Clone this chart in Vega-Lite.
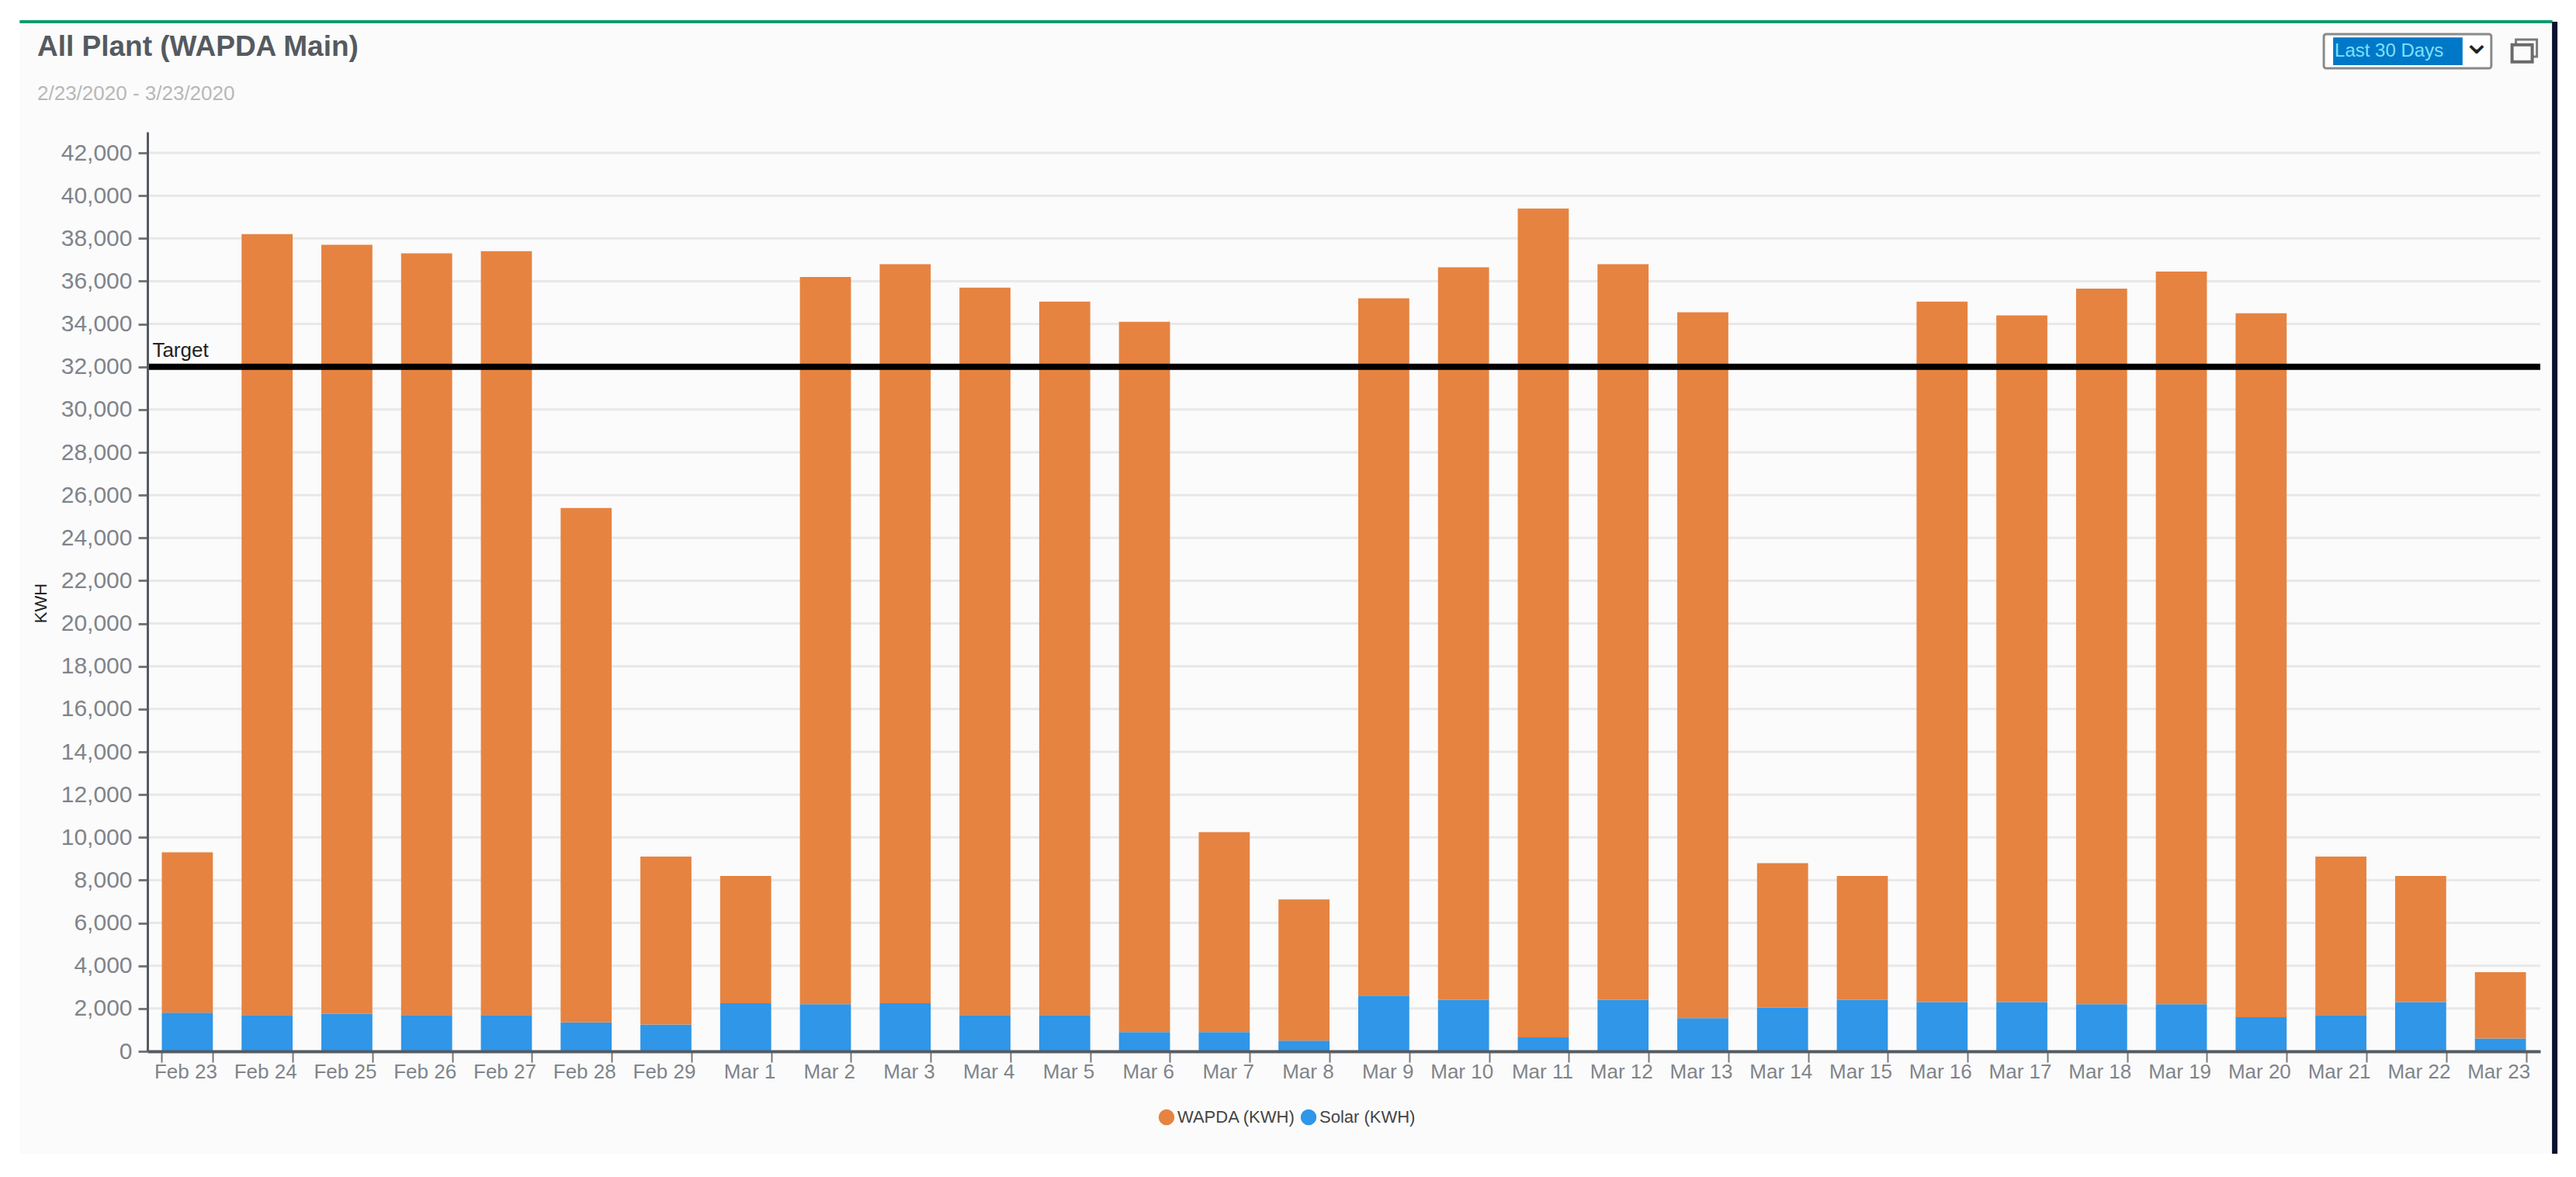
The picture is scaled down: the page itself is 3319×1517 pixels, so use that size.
{
"$schema":"https://vega.github.io/schema/vega-lite/v6.json",
"width":3083,"height":1185,
"autosize":{"type":"none"},
"padding":{"left":190,"top":170,"right":46,"bottom":162},
"background":"#ffffff",
"title":{"text":"All Plant (WAPDA Main)","subtitle":"2/23/2020 - 3/23/2020","anchor":"start","frame":"group","dx":-142,"offset":-111,"font":"Liberation Sans","fontSize":37,"fontWeight":"bold","color":"#555a60","subtitleFont":"Liberation Sans","subtitleFontSize":26,"subtitleColor":"#b8b8b8","subtitlePadding":28},
"config":{"view":{"stroke":null},"font":"Liberation Sans"},
"layer":[
{"data":{"values":[{"a":"panel"}]},"mark":{"type":"rect","fill":"#fbfbfb","xOffset":-216,"x2Offset":67},
 "encoding":{"x":{"datum":"Feb 23"},"x2":{"datum":"Mar 23"},"y":{"datum":48132},"y2":{"datum":-4790}}},
{"data":{"values":[{"v":2000},{"v":4000},{"v":6000},{"v":8000},{"v":10000},{"v":12000},{"v":14000},{"v":16000},{"v":18000},{"v":20000},{"v":22000},{"v":24000},{"v":26000},{"v":28000},{"v":30000},{"v":32000},{"v":34000},{"v":36000},{"v":38000},{"v":40000},{"v":42000}]},
 "mark":{"type":"rule","stroke":"#e8e8e8","strokeWidth":3},
 "encoding":{"y":{"field":"v","type":"quantitative"}}},
{"data":{"values":[
{"d":"Feb 23","s":"Solar (KWH)","v":1800},{"d":"Feb 23","s":"WAPDA (KWH)","v":7500},
{"d":"Feb 24","s":"Solar (KWH)","v":1700},{"d":"Feb 24","s":"WAPDA (KWH)","v":36500},
{"d":"Feb 25","s":"Solar (KWH)","v":1750},{"d":"Feb 25","s":"WAPDA (KWH)","v":35950},
{"d":"Feb 26","s":"Solar (KWH)","v":1700},{"d":"Feb 26","s":"WAPDA (KWH)","v":35600},
{"d":"Feb 27","s":"Solar (KWH)","v":1700},{"d":"Feb 27","s":"WAPDA (KWH)","v":35700},
{"d":"Feb 28","s":"Solar (KWH)","v":1350},{"d":"Feb 28","s":"WAPDA (KWH)","v":24050},
{"d":"Feb 29","s":"Solar (KWH)","v":1250},{"d":"Feb 29","s":"WAPDA (KWH)","v":7850},
{"d":"Mar 1","s":"Solar (KWH)","v":2250},{"d":"Mar 1","s":"WAPDA (KWH)","v":5950},
{"d":"Mar 2","s":"Solar (KWH)","v":2200},{"d":"Mar 2","s":"WAPDA (KWH)","v":34000},
{"d":"Mar 3","s":"Solar (KWH)","v":2250},{"d":"Mar 3","s":"WAPDA (KWH)","v":34550},
{"d":"Mar 4","s":"Solar (KWH)","v":1700},{"d":"Mar 4","s":"WAPDA (KWH)","v":34000},
{"d":"Mar 5","s":"Solar (KWH)","v":1700},{"d":"Mar 5","s":"WAPDA (KWH)","v":33350},
{"d":"Mar 6","s":"Solar (KWH)","v":900},{"d":"Mar 6","s":"WAPDA (KWH)","v":33200},
{"d":"Mar 7","s":"Solar (KWH)","v":900},{"d":"Mar 7","s":"WAPDA (KWH)","v":9350},
{"d":"Mar 8","s":"Solar (KWH)","v":500},{"d":"Mar 8","s":"WAPDA (KWH)","v":6600},
{"d":"Mar 9","s":"Solar (KWH)","v":2600},{"d":"Mar 9","s":"WAPDA (KWH)","v":32600},
{"d":"Mar 10","s":"Solar (KWH)","v":2400},{"d":"Mar 10","s":"WAPDA (KWH)","v":34250},
{"d":"Mar 11","s":"Solar (KWH)","v":650},{"d":"Mar 11","s":"WAPDA (KWH)","v":38750},
{"d":"Mar 12","s":"Solar (KWH)","v":2400},{"d":"Mar 12","s":"WAPDA (KWH)","v":34400},
{"d":"Mar 13","s":"Solar (KWH)","v":1550},{"d":"Mar 13","s":"WAPDA (KWH)","v":33000},
{"d":"Mar 14","s":"Solar (KWH)","v":2050},{"d":"Mar 14","s":"WAPDA (KWH)","v":6750},
{"d":"Mar 15","s":"Solar (KWH)","v":2400},{"d":"Mar 15","s":"WAPDA (KWH)","v":5800},
{"d":"Mar 16","s":"Solar (KWH)","v":2300},{"d":"Mar 16","s":"WAPDA (KWH)","v":32750},
{"d":"Mar 17","s":"Solar (KWH)","v":2300},{"d":"Mar 17","s":"WAPDA (KWH)","v":32100},
{"d":"Mar 18","s":"Solar (KWH)","v":2200},{"d":"Mar 18","s":"WAPDA (KWH)","v":33450},
{"d":"Mar 19","s":"Solar (KWH)","v":2200},{"d":"Mar 19","s":"WAPDA (KWH)","v":34250},
{"d":"Mar 20","s":"Solar (KWH)","v":1600},{"d":"Mar 20","s":"WAPDA (KWH)","v":32900},
{"d":"Mar 21","s":"Solar (KWH)","v":1700},{"d":"Mar 21","s":"WAPDA (KWH)","v":7400},
{"d":"Mar 22","s":"Solar (KWH)","v":2300},{"d":"Mar 22","s":"WAPDA (KWH)","v":5900},
{"d":"Mar 23","s":"Solar (KWH)","v":600},{"d":"Mar 23","s":"WAPDA (KWH)","v":3100}
]},
 "mark":{"type":"bar"},
 "encoding":{
  "x":{"field":"d","type":"nominal","sort":null,"title":null,
   "scale":{"domain":["Feb 23","Feb 24","Feb 25","Feb 26","Feb 27","Feb 28","Feb 29","Mar 1","Mar 2","Mar 3","Mar 4","Mar 5","Mar 6","Mar 7","Mar 8","Mar 9","Mar 10","Mar 11","Mar 12","Mar 13","Mar 14","Mar 15","Mar 16","Mar 17","Mar 18","Mar 19","Mar 20","Mar 21","Mar 22","Mar 23"],"paddingInner":0.36,"paddingOuter":0.18},
   "axis":{"zindex":1,"labelAngle":0,"labelFontSize":26,"labelColor":"#80848a","labelPadding":12,"labelOffset":38,"tickSize":14,"tickWidth":2,"tickColor":"#777","tickBand":"extent","domainColor":"#555b62","domainWidth":4,"labelOverlap":false}},
  "y":{"field":"v","type":"quantitative","stack":"zero","title":"KWH",
   "scale":{"domain":[0,42980],"nice":false,"zero":false},
   "axis":{"zindex":1,"values":[0,2000,4000,6000,8000,10000,12000,14000,16000,18000,20000,22000,24000,26000,28000,30000,32000,34000,36000,38000,40000,42000],"format":",d","grid":false,"labelFontSize":30,"labelColor":"#80848a","labelPadding":8,"tickSize":12,"tickWidth":3,"tickColor":"#777","domainColor":"#555b62","domainWidth":3,"titleFontSize":22,"titleFontWeight":"normal","titleColor":"#222","titleY":607,"titleX":-126}},
  "color":{"field":"s","type":"nominal","scale":{"domain":["WAPDA (KWH)","Solar (KWH)"],"range":["#e68341","#2f96e8"]},
   "legend":{"orient":"none","legendX":1302,"legendY":1259,"direction":"horizontal","title":null,"symbolType":"circle","symbolSize":420,"symbolStrokeWidth":0,"labelFontSize":22,"labelColor":"#444","columnPadding":6,"labelOffset":3}},
  "order":{"field":"s","sort":"ascending"}
 }},
{"data":{"values":[{"t":32000}]},"mark":{"type":"rule","stroke":"#000000","strokeWidth":8},"encoding":{"y":{"field":"t","type":"quantitative"}}},
{"data":{"values":[{"label":"Target"}]},"mark":{"type":"text","align":"left","baseline":"bottom","fontSize":26,"color":"#222","xOffset":-45,"yOffset":-8},
 "encoding":{"x":{"datum":"Feb 23"},"y":{"datum":32000},"text":{"field":"label"}}},
{"data":{"values":[{"a":"top"}]},"mark":{"type":"rule","stroke":"#0c9a6c","strokeWidth":4,"xOffset":-216,"x2Offset":67},
 "encoding":{"x":{"datum":"Feb 23"},"x2":{"datum":"Mar 23"},"y":{"datum":48132}}},
{"data":{"values":[{"a":"edge"}]},"mark":{"type":"rule","stroke":"#0b1030","strokeWidth":7,"xOffset":70},
 "encoding":{"x":{"datum":"Mar 23"},"y":{"datum":48132},"y2":{"datum":-4790}}},
{"data":{"values":[{"a":"select"}]},"mark":{"type":"rect","fill":"#ffffff","stroke":"#8a8a8a","strokeWidth":3,"cornerRadius":3,"xOffset":-22,"x2Offset":91},
 "encoding":{"x":{"datum":"Mar 21"},"x2":{"datum":"Mar 22"},"y":{"datum":47550},"y2":{"datum":45950}}},
{"data":{"values":[{"a":"selected"}]},"mark":{"type":"rect","fill":"#0078c8","xOffset":-10,"x2Offset":54},
 "encoding":{"x":{"datum":"Mar 21"},"x2":{"datum":"Mar 22"},"y":{"datum":47400},"y2":{"datum":46100}}},
{"data":{"values":[{"label":"Last 30 Days"}]},"mark":{"type":"text","align":"left","baseline":"middle","fontSize":24,"color":"#7fe0ff","xOffset":-8},
 "encoding":{"x":{"datum":"Mar 21"},"y":{"datum":46750},"text":{"field":"label"}}},
{"data":{"values":[{"label":"⌄"}]},"mark":{"type":"text","align":"center","baseline":"middle","fontSize":44,"font":"DejaVu Sans","color":"#222","xOffset":72,"yOffset":-10},
 "encoding":{"x":{"datum":"Mar 22"},"y":{"datum":46750},"text":{"field":"label"}}},
{"data":{"values":[{"a":"win"}]},"mark":{"type":"rect","fill":"#fbfbfb","stroke":"#7a7a7a","strokeWidth":3,"xOffset":20,"x2Offset":47},
 "encoding":{"x":{"datum":"Mar 23"},"x2":{"datum":"Mar 23"},"y":{"datum":47300},"y2":{"datum":46500}}},
{"data":{"values":[{"a":"win2"}]},"mark":{"type":"rect","fill":"#fbfbfb","stroke":"#6a6a6a","strokeWidth":4,"xOffset":15,"x2Offset":41},
 "encoding":{"x":{"datum":"Mar 23"},"x2":{"datum":"Mar 23"},"y":{"datum":47050},"y2":{"datum":46250}}}
]
}
